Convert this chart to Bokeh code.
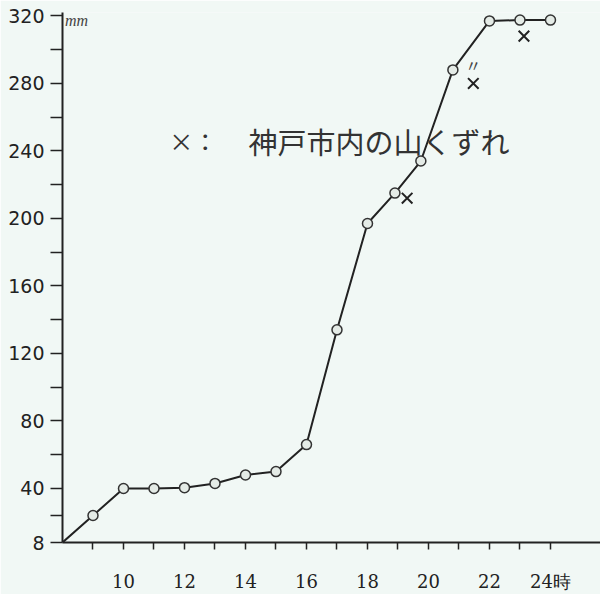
from bokeh.plotting import figure
from bokeh.models import FixedTicker, Label, ColumnDataSource
from bokeh.embed import file_html
from bokeh.resources import INLINE

# cumulative rainfall (mm) by hour
hours = [8, 9, 10, 11, 12, 13, 14, 15, 16, 17, 18, 18.9, 19.75, 20.8, 22, 23, 24]
rain = [8, 24, 40, 40, 40.5, 43, 48, 50, 66, 134, 197, 215, 234, 288, 317, 317.5, 317.5]

# landslides in Kobe city (×)
slide_hours = [19.3, 21.47, 23.13]
slide_rain = [212, 280, 308]

x_ticks = [10, 12, 14, 16, 18, 20, 22, 24]
x_minor = [9, 11, 13, 15, 17, 19, 21, 23]
x_labels = {24: "24時"}
y_ticks = [8, 40, 80, 120, 160, 200, 240, 280, 320]
y_minor = [24, 60, 100, 140, 180, 220, 260, 300]

BG = "#f1f8f5"
INK = "#222222"

p = figure(width=600, height=594, output_backend="svg", toolbar_location=None,
           x_range=(8, 25.64), y_range=(8, 322),
           min_border_left=62, min_border_right=0, min_border_top=12, min_border_bottom=49)
p.background_fill_color = BG
p.border_fill_color = BG
p.outline_line_color = None
p.grid.visible = False

p.xaxis.ticker = FixedTicker(ticks=x_ticks, minor_ticks=x_minor)
p.xaxis.major_label_overrides = x_labels
p.yaxis.ticker = FixedTicker(ticks=y_ticks, minor_ticks=y_minor)
for ax in (p.xaxis, p.yaxis):
    ax.axis_line_color = INK
    ax.axis_line_width = 2
    ax.major_tick_line_color = INK
    ax.minor_tick_line_color = INK
    ax.major_tick_line_width = 1.5
    ax.minor_tick_line_width = 1.5
    ax.major_tick_in = 0
    ax.minor_tick_in = 0
    ax.major_label_text_color = INK
p.xaxis.major_tick_out = 7
p.xaxis.minor_tick_out = 7
p.yaxis.major_tick_out = 12
p.yaxis.minor_tick_out = 12
p.xaxis.major_label_text_font = "DejaVu Serif"
p.xaxis.major_label_text_font_size = "18px"
p.xaxis.major_label_standoff = 21
p.yaxis.major_label_text_font = "DejaVu Sans"
p.yaxis.major_label_text_font_size = "19px"
p.yaxis.major_label_standoff = 6

src = ColumnDataSource(dict(x=hours, y=rain))
p.line("x", "y", source=src, line_color=INK, line_width=2)
msrc = ColumnDataSource(dict(x=hours[1:], y=rain[1:]))
p.scatter("x", "y", source=msrc, marker="circle", size=10,
          fill_color="#e4ebe6", line_color="#333333", line_width=1.5)

p.scatter(slide_hours, slide_rain, marker="x", size=15, line_color=INK, line_width=2)

p.add_layout(Label(x=21.47, y=291, text="〃", text_font="Noto Sans CJK JP",
                   text_font_size="16px", text_color="#444444",
                   text_align="center", text_baseline="middle"))

p.add_layout(Label(x=11.5, y=246, text="×：", text_font="Noto Sans CJK JP",
                   text_font_size="24px", text_color="#333333",
                   text_align="left", text_baseline="middle"))
p.add_layout(Label(x=14.1, y=246, text="神戸市内の山くずれ", text_font="Noto Sans CJK JP",
                   text_font_size="29px", text_color="#333333",
                   text_align="left", text_baseline="middle"))

p.add_layout(Label(x=8.08, y=317.5, text="mm", text_font="Liberation Serif",
                   text_font_style="italic", text_font_size="16px", text_color="#444444",
                   text_align="left", text_baseline="middle"))

open("out.html", "w").write(file_html(p, INLINE))
